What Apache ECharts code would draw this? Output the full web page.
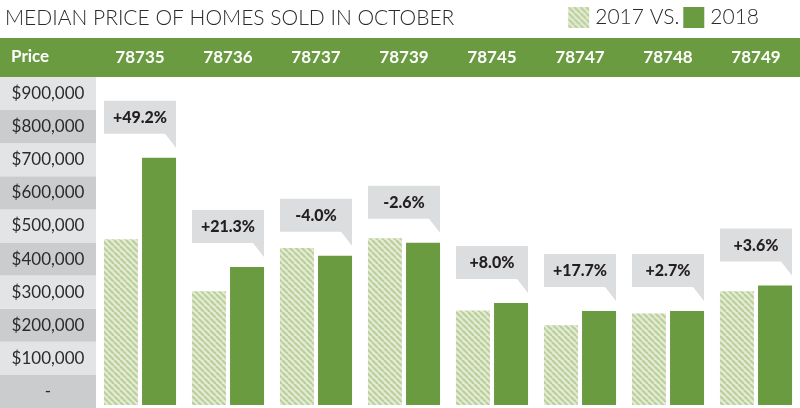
<!DOCTYPE html>
<html>
<head>
<meta charset="utf-8">
<script src="https://cdn.jsdelivr.net/npm/echarts@6/dist/echarts.min.js"></script>
<style>
  html, body { margin: 0; padding: 0; background: #fff; }
  #main { width: 800px; height: 408px; }
</style>
</head>
<body>
<div id="main"></div>
<script>
// zip codes along the header row
var zips = ['78735', '78736', '78737', '78739', '78745', '78747', '78748', '78749'];
// median sale price, October
var price2017 = [502000, 345000, 476000, 505000, 286000, 242000, 277000, 345000];
var price2018 = [749000, 418000, 452000, 492000, 309000, 285000, 285000, 362000];
var changeText = ['+49.2%', '+21.3%', '-4.0%', '-2.6%', '+8.0%', '+17.7%', '+2.7%', '+3.6%'];
// left hand price scale, bottom to top
var priceLabels = ['-', '$100,000', '$200,000', '$300,000', '$400,000', '$500,000',
    '$600,000', '$700,000', '$800,000', '$900,000'];

var green = '#6b9b41';

// hatched fill for 2017
function hatch() {
    var c = document.createElement('canvas');
    c.width = 6; c.height = 6;
    var ctx = c.getContext('2d');
    ctx.fillStyle = '#e2ebd3';
    ctx.fillRect(0, 0, 6, 6);
    ctx.strokeStyle = '#bccf9b';
    ctx.lineWidth = 2;
    for (var i = -6; i <= 6; i += 6) {
        ctx.beginPath();
        ctx.moveTo(i, 0);
        ctx.lineTo(i + 6, 6);
        ctx.stroke();
    }
    return c;
}

var dom = document.getElementById('main');
var myChart = echarts.init(dom);

var calloutData = zips.map(function (z, i) { return [i, price2018[i]]; });

var option = {
    animation: false,
    textStyle: { fontFamily: 'Lato' },
    title: {
        text: 'MEDIAN PRICE OF HOMES SOLD IN OCTOBER',
        left: 0,
        top: 3,
        textStyle: { fontSize: 21, fontWeight: 300, color: '#2b2b2b', fontFamily: 'Lato' }
    },
    legend: {
        data: ['2017', '2018'],
        right: 36,
        top: 2,
        icon: 'rect',
        itemWidth: 21,
        itemHeight: 21,
        itemGap: 4,
        formatter: function (name) { return name === '2017' ? '2017 VS.' : name; },
        textStyle: { fontSize: 21, fontWeight: 300, color: '#2b2b2b', padding: [0, 0, 0, 1] }
    },
    graphic: [
        { type: 'rect', z: -1, shape: { x: 0, y: 38, width: 800, height: 39 }, style: { fill: green } },
        { type: 'text', z: 10, left: 11, top: 48,
          style: { text: 'Price', fill: '#fff', font: 'bold 17px Lato' } }
    ],
    grid: [
        { left: 96, right: 0, top: 75, bottom: 3 },
        { left: 0, width: 96, top: 77, bottom: 0 }
    ],
    xAxis: [
        {
            type: 'category',
            data: zips,
            position: 'top',
            z: 5,
            axisLine: { show: false },
            axisTick: { show: false },
            axisLabel: { color: '#fff', fontSize: 17, fontWeight: 'bold', margin: 17, verticalAlign: 'middle' }
        },
        { type: 'value', gridIndex: 1, show: false }
    ],
    yAxis: [
        { type: 'value', min: 0, max: 1000000, interval: 100000, show: false },
        {
            type: 'category',
            gridIndex: 1,
            data: priceLabels,
            axisLine: { show: false },
            axisTick: { show: false },
            splitLine: { show: false },
            splitArea: { show: true, areaStyle: { color: ['#cbcccd', '#e3e4e5'] } },
            axisLabel: { inside: true, margin: 48, align: 'center', fontSize: 17, color: '#2b2b2b' }
        }
    ],
    series: [
        {
            name: '2017',
            type: 'bar',
            data: price2017,
            barWidth: 34,
            barGap: '12%',
            itemStyle: { color: { image: hatch(), repeat: 'repeat' } }
        },
        {
            name: '2018',
            type: 'bar',
            data: price2018,
            barWidth: 34,
            itemStyle: { color: green }
        },
        {
            type: 'custom',
            data: calloutData,
            z: 4,
            renderItem: function (params, api) {
                var p = api.coord([api.value(0), api.value(1)]);
                var L = p[0] - 36, R = p[0] + 36;
                var B = p[1] - 24, T = B - 33;
                return {
                    type: 'group',
                    children: [
                        { type: 'polygon',
                          shape: { points: [[L, T], [R, T], [R, B + 14], [R - 11, B], [L, B]] },
                          style: { fill: '#dcdddf' } },
                        { type: 'text',
                          style: { text: changeText[params.dataIndex], x: p[0], y: T + 17,
                                   align: 'center', verticalAlign: 'middle',
                                   fill: '#231f20', font: '900 16px Lato' } }
                    ]
                };
            }
        }
    ]
};

if (option && typeof option === "object") {
    myChart.setOption(option, true);
}
</script>
</body>
</html>
